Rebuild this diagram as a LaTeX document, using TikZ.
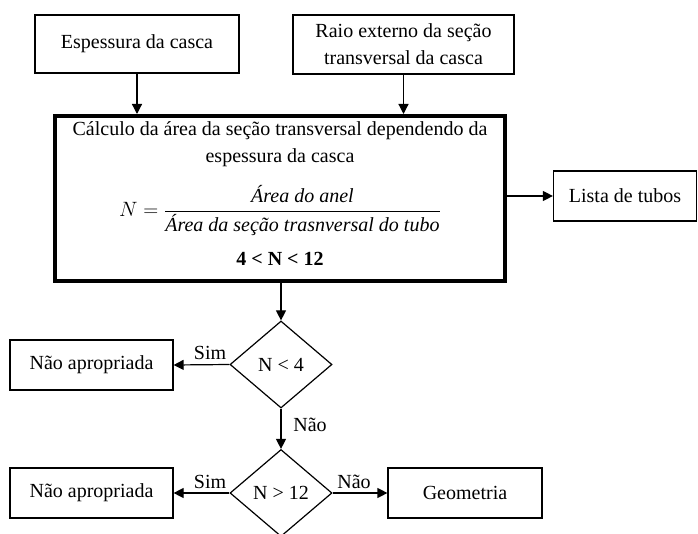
\documentclass[tikz,border=0pt]{standalone}
\usepackage{fontspec}
\usepackage{amsmath}
\setmainfont{Liberation Serif}
\usetikzlibrary{shapes.geometric,arrows.meta}

\begin{document}
\begin{tikzpicture}[x=1pt,y=-1pt]
\tikzstyle{every node}+=[inner sep=0pt, font=\fontsize{20}{27}\selectfont]
\tikzstyle{box}=[draw, line width=1.2pt, align=center]
\tikzstyle{decision}=[draw, diamond, line width=1.2pt, minimum width=102pt, minimum height=87pt]
\tikzstyle{flow}=[line width=1.2pt, -{Triangle[length=10pt,width=10pt]}]
\useasboundingbox (0,0) rectangle (698,534);
\node [box, minimum width=204pt, minimum height=58pt] (esp) at (137,44) {Espessura da casca};
\node [box, minimum width=221pt, minimum height=59pt] (raio) at (403.5,44.5) {Raio externo da seção\\transversal da casca};
\node [box, line width=4pt, minimum width=450pt, minimum height=165pt] (calc) at (280,198.5)
  {Cálculo da área da seção transversal dependendo da\\espessura da casca\\[18pt]
   $N=\dfrac{\textit{Área do anel}}{\textit{Área da seção trasnversal do tubo}}$\\[16pt]
   \textbf{4 < N < 12}\rule[-10pt]{0pt}{10pt}};
\node [box, minimum width=143pt, minimum height=50pt] (lista) at (625,196) {Lista de tubos};
\node [decision] (d1) at (281,364.5) {N < 4};
\node [box, minimum width=163pt, minimum height=50pt] (n1) at (91.5,365) {Não apropriada};
\node [decision] (d2) at (281,493) {N > 12};
\node [box, minimum width=163pt, minimum height=50pt] (n2) at (91.5,493) {Não apropriada};
\node [box, minimum width=154pt, minimum height=50pt] (geo) at (465,493) {Geometria};
\draw [flow] (esp.south) -- (esp.south |- calc.north);
\draw [flow] (raio.south) -- (raio.south |- calc.north);
\draw [flow] (calc.east |- lista.west) -- (lista.west);
\draw [flow] (d1.north |- calc.south) -- (d1.north);
\draw [flow] (d1.west) -- (n1.east);
\draw [flow] (d1.south) -- (d2.north);
\draw [flow] (d2.west) -- (n2.east);
\draw [flow] (d2.east) -- (geo.west);
\node (sim1) at (210,353) {Sim};
\node (nao1) at (310,425) {Não};
\node (sim2) at (210,482) {Sim};
\node (nao2) at (354,482) {Não};
\end{tikzpicture}
\end{document}
